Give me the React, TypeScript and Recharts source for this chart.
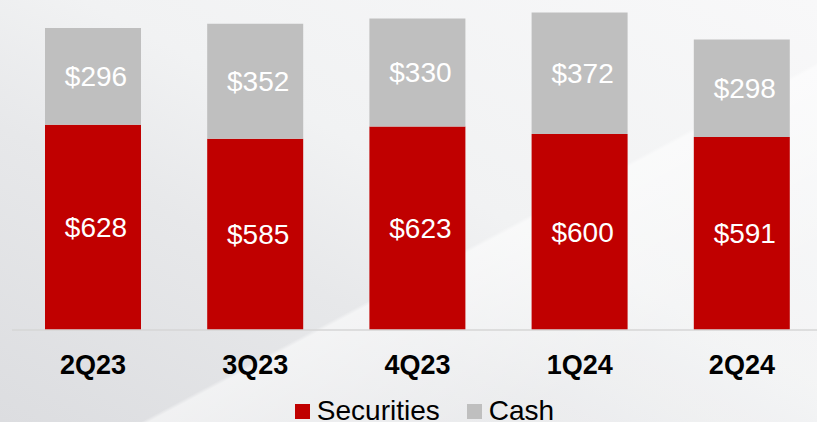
import React from 'react';
import { BarChart, Bar, XAxis, YAxis, Legend, LabelList } from 'recharts';

const quarters = ['2Q23', '3Q23', '4Q23', '1Q24', '2Q24'];
const securities = [628, 585, 623, 600, 591];
const cash = [296, 352, 330, 372, 298];

const RED = '#c00000';
const GRAY = '#bfbfbf';
const FONT = 'Arial, "Liberation Sans", Helvetica, sans-serif';

const data = quarters.map((q, i) => ({ quarter: q, securities: securities[i], cash: cash[i] }));

const QuarterTick = (props: any) => {
  const { x, y, payload } = props;
  return (
    <text x={x} y={y} dy={36} textAnchor="middle" fontFamily={FONT} fontWeight="700" fontSize={27} fill="#000">
      {payload.value}
    </text>
  );
};

const LegendBox = () => (
  <div style={{ display: 'flex', justifyContent: 'center', alignItems: 'center', height: 30, boxSizing: 'border-box', paddingTop: 8, fontFamily: FONT, fontSize: 28, color: '#000', paddingLeft: 14 }}>
    <span style={{ width: 15, height: 15, background: RED, marginRight: 7, display: 'inline-block' }} />
    <span style={{ marginRight: 27 }}>Securities</span>
    <span style={{ width: 15, height: 15, background: GRAY, marginRight: 7, display: 'inline-block' }} />
    <span>Cash</span>
  </div>
);

const money = (v: any) => `$${v}`;

export default function App() {
  return (
    <div
      style={{
        position: 'absolute',
        left: 0,
        top: 0,
        width: 817,
        height: 422,
        overflow: 'hidden',
        background:
          'linear-gradient(152deg, rgba(255,255,255,0) 58%, rgba(255,255,255,0.55) 58.5%, rgba(255,255,255,0.2) 80%), linear-gradient(to top right, #dcdde0 0%, #e7e8ea 35%, #f1f2f3 55%, #f8f8f9 100%)',
      }}
    >
      <BarChart width={830} height={422} data={data} margin={{ top: 0, right: 7, left: 12, bottom: 0 }} barSize={96}>
        <XAxis
          dataKey="quarter"
          axisLine={{ stroke: '#d6d6d6', strokeWidth: 1.5 }}
          tickLine={false}
          height={62}
          tick={<QuarterTick />}
          interval={0}
        />
        <YAxis hide domain={[0, 1010]} />
        <Legend verticalAlign="bottom" content={<LegendBox />} />
        <Bar dataKey="securities" stackId="a" fill={RED} isAnimationActive={false}>
          <LabelList dataKey="securities" position="center" formatter={money} fill="#fff" fontSize={28} fontFamily={FONT} dx={3} />
        </Bar>
        <Bar dataKey="cash" stackId="a" fill={GRAY} isAnimationActive={false}>
          <LabelList dataKey="cash" position="center" formatter={money} fill="#fff" fontSize={28} fontFamily={FONT} dx={3} />
        </Bar>
      </BarChart>
    </div>
  );
}
